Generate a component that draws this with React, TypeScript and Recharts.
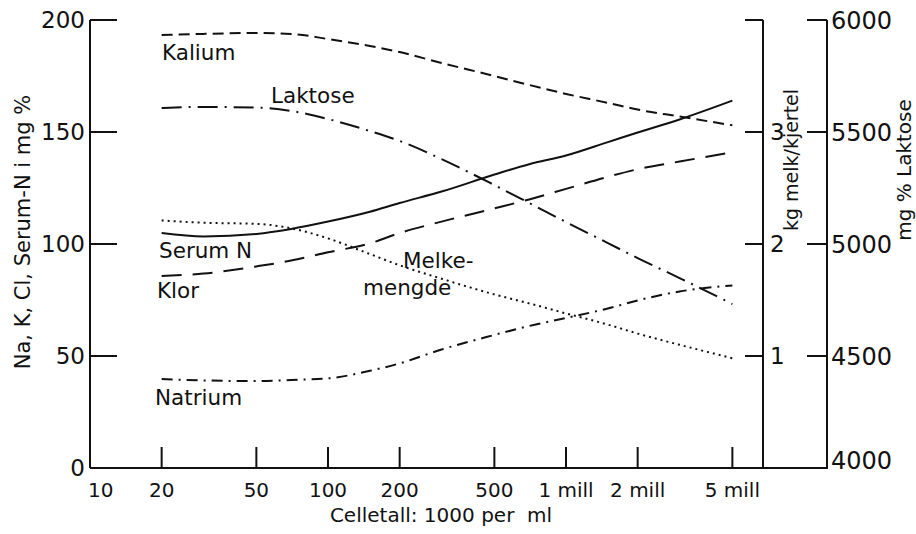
import React from 'react';
import { LineChart, Line, XAxis, YAxis } from 'recharts';

// cell count in 1000 per ml (log scale)
const CELLS = [20, 30, 50, 70, 100, 150, 200, 300, 500, 700, 1000, 1500, 2000, 3000, 5000];

// mg % (left axis)
const KALIUM = [193.3, 193.8, 194.2, 193.8, 191.5, 188.4, 185.7, 180.8, 175.0, 171.0, 167.0, 163.0, 160.0, 156.9, 153.0];
const SERUM_N = [104.9, 103.4, 104.5, 106.7, 110.0, 114.4, 118.3, 123.4, 131.0, 135.6, 139.5, 145.5, 149.8, 155.6, 164.0];
const KLOR = [85.7, 86.8, 90.0, 92.6, 96.3, 100.3, 104.9, 110.0, 115.9, 119.9, 124.6, 130.0, 133.4, 136.8, 141.0];
const NATRIUM = [39.7, 39.1, 38.8, 39.3, 40.0, 43.4, 46.7, 52.9, 59.4, 63.4, 67.0, 71.2, 74.8, 78.8, 81.5];

// mg % Laktose (outer right axis)
const LAKTOSE = [5607, 5612, 5609, 5594, 5558, 5504, 5460, 5379, 5263, 5183, 5098, 5004, 4937, 4848, 4732];

// kg melk/kjertel (inner right axis)
const MELKEMENGDE = [2.21, 2.19, 2.18, 2.14, 2.05, 1.91, 1.81, 1.69, 1.55, 1.47, 1.38, 1.28, 1.2, 1.1, 0.98];

const X_TICKS = [10, 20, 50, 100, 200, 500, 1000, 2000, 5000];
const X_TICK_LABELS = ['10', '20', '50', '100', '200', '500', '1 mill', '2 mill', '5 mill'];
const LEFT_TICKS = [0, 50, 100, 150, 200];
const KG_TICKS = [1, 2, 3, 4];
const KG_TICK_LABELS = ['1', '2', '3', ''];
const LAKT_TICKS = [4000, 4500, 5000, 5500, 6000];

const INK = '#111';
const FONT = '"DejaVu Sans", sans-serif';

const data = CELLS.map((c, i) => ({
  cells: c,
  kalium: KALIUM[i],
  laktose: LAKTOSE[i],
  serumN: SERUM_N[i],
  klor: KLOR[i],
  melk: MELKEMENGDE[i],
  natrium: NATRIUM[i],
}));

// curve captions, placed as in the figure
const CAPTIONS = [
  { text: 'Kalium', x: 162, y: 60 },
  { text: 'Laktose', x: 271, y: 103 },
  { text: 'Serum N', x: 159, y: 258 },
  { text: 'Klor', x: 157, y: 298 },
  { text: 'Melke-', x: 403, y: 268 },
  { text: 'mengde', x: 363, y: 295 },
  { text: 'Natrium', x: 155, y: 405 },
];

const XTick = ({ x, y, payload }: any) => {
  const v = payload.value;
  const first = v === X_TICKS[0];
  return (
    <g>
      {!first && <line x1={x} x2={x} y1={y} y2={y - 21} stroke={INK} strokeWidth={2} />}
      <text
        x={first ? x - 2 : x}
        y={y + 22}
        dy="0.36em"
        textAnchor={first ? 'start' : 'middle'}
        fontSize={20}
        fontFamily={FONT}
        fill={INK}
      >
        {X_TICK_LABELS[X_TICKS.indexOf(v)]}
      </text>
    </g>
  );
};

const LeftTick = ({ x, y, payload }: any) => (
  <g>
    {payload.value > 0 && <line x1={x} x2={x + 27} y1={y} y2={y} stroke={INK} strokeWidth={2} />}
    <text x={x - 5} y={y} dy="0.36em" textAnchor="end" fontSize={23} fontFamily={FONT} fill={INK}>
      {payload.value}
    </text>
  </g>
);

const KgTick = ({ x, y, payload }: any) => (
  <g>
    <line x1={x - 18} x2={x} y1={y} y2={y} stroke={INK} strokeWidth={2} />
    <text x={x + 7} y={y} dy="0.36em" textAnchor="start" fontSize={23} fontFamily={FONT} fill={INK}>
      {KG_TICK_LABELS[KG_TICKS.indexOf(payload.value)]}
    </text>
  </g>
);

const LaktTick = ({ x, y, payload }: any) => {
  const bottom = payload.value === LAKT_TICKS[0];
  return (
    <g>
      {!bottom && <line x1={x - 20} x2={x} y1={y} y2={y} stroke={INK} strokeWidth={2} />}
      <text x={x + 4} y={bottom ? y - 8 : y} dy="0.36em" textAnchor="start" fontSize={24} fontFamily={FONT} fill={INK}>
        {payload.value}
      </text>
    </g>
  );
};

const axisLine = { stroke: INK, strokeWidth: 2 };

export default function App() {
  return (
    <div style={{ position: 'absolute', left: 0, top: 0, width: 916, height: 534, background: '#fff' }}>
      <LineChart width={916} height={534} data={data} margin={{ top: 20, right: 0, bottom: 0, left: 0 }}>
        <XAxis
          dataKey="cells"
          type="number"
          scale="log"
          domain={[10, 6724]}
          ticks={X_TICKS}
          interval={0}
          height={66}
          tickSize={0}
          tickMargin={0}
          tickLine={false}
          axisLine={axisLine}
          tick={<XTick />}
        />
        <YAxis
          yAxisId="left"
          domain={[0, 200]}
          ticks={LEFT_TICKS}
          interval={0}
          width={90}
          tickSize={0}
          tickMargin={0}
          tickLine={false}
          axisLine={axisLine}
          tick={<LeftTick />}
        />
        <YAxis
          yAxisId="kg"
          orientation="right"
          domain={[0, 4]}
          ticks={KG_TICKS}
          interval={0}
          width={64}
          tickSize={0}
          tickMargin={0}
          tickLine={false}
          axisLine={axisLine}
          tick={<KgTick />}
        />
        <YAxis
          yAxisId="lakt"
          orientation="right"
          domain={[4000, 6000]}
          ticks={LAKT_TICKS}
          interval={0}
          width={89}
          tickSize={0}
          tickMargin={0}
          tickLine={false}
          axisLine={axisLine}
          tick={<LaktTick />}
        />
        <Line yAxisId="left" dataKey="kalium" type="monotone" stroke={INK} strokeWidth={2} strokeDasharray="11 6" dot={false} isAnimationActive={false} />
        <Line yAxisId="lakt" dataKey="laktose" type="monotone" stroke={INK} strokeWidth={2} strokeDasharray="20 7 2 7" dot={false} isAnimationActive={false} />
        <Line yAxisId="left" dataKey="serumN" type="monotone" stroke={INK} strokeWidth={2} dot={false} isAnimationActive={false} />
        <Line yAxisId="left" dataKey="klor" type="monotone" stroke={INK} strokeWidth={2} strokeDasharray="20 11" dot={false} isAnimationActive={false} />
        <Line yAxisId="kg" dataKey="melk" type="monotone" stroke={INK} strokeWidth={2} strokeDasharray="2 4" dot={false} isAnimationActive={false} />
        <Line yAxisId="left" dataKey="natrium" type="monotone" stroke={INK} strokeWidth={2} strokeDasharray="11 6 2 6" dot={false} isAnimationActive={false} />
      </LineChart>
      <svg width={916} height={534} style={{ position: 'absolute', left: 0, top: 0, pointerEvents: 'none' }}>
        <line x1={762} x2={828} y1={468} y2={468} stroke={INK} strokeWidth={2} />
        <g fontFamily={FONT} fill={INK}>
          {CAPTIONS.map((c) => (
            <text key={c.text} x={c.x} y={c.y} fontSize={21.5}>
              {c.text}
            </text>
          ))}
          <text x={23} y={232} fontSize={21} textAnchor="middle" dominantBaseline="central" transform="rotate(-90 23 232)">
            Na, K, Cl, Serum-N i mg %
          </text>
          <text x={791} y={160} fontSize={19} textAnchor="middle" dominantBaseline="central" transform="rotate(-90 791 160)">
            kg melk/kjertel
          </text>
          <text x={904} y={170} fontSize={20} textAnchor="middle" dominantBaseline="central" transform="rotate(-90 904 170)">
            mg % Laktose
          </text>
          <text x={441} y={522} fontSize={20} textAnchor="middle" style={{ whiteSpace: 'pre' }}>
            Celletall: 1000 per  ml
          </text>
        </g>
      </svg>
    </div>
  );
}
